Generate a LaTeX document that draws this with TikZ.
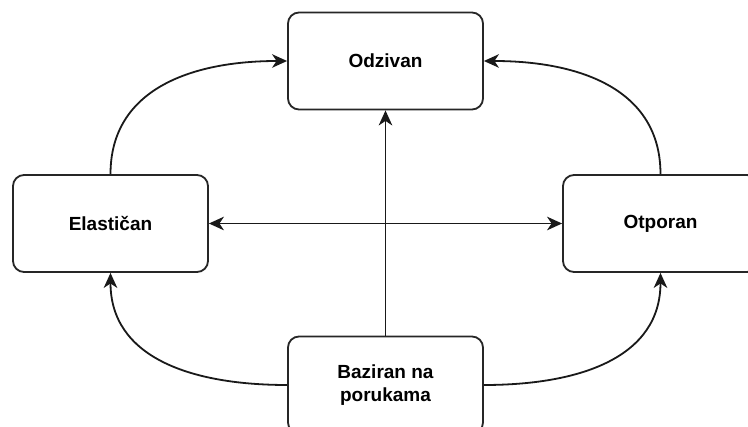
\documentclass[tikz,border=0pt]{standalone}
\usepackage{fontspec}
\setmainfont{Liberation Sans}
\usetikzlibrary{arrows.meta}
\begin{document}
\begin{tikzpicture}[x=1pt,y=-1pt,
  tip/.tip={Stealth[length=15pt,width=13.5pt,inset=4.5pt]},
  box/.style={draw=black!85,line width=1.8pt,rounded corners=11pt,fill=white,
    minimum width=195pt,minimum height=97pt,align=center,inner sep=0pt,
    font=\fontsize{19}{23}\selectfont\bfseries},
  link/.style={line width=1.8pt,draw=black!90,-tip},
  both/.style={line width=1.8pt,draw=black!90,tip-tip}]
\useasboundingbox[fill=white] (0,0) rectangle (748,427);
\begin{scope}
\clip (0,0) rectangle (748,427);
\node[box] (odz) at (385.5,61) {\raisebox{-1.5pt}{Odzivan}};
\node[box] (ela) at (110.5,223.5) {\raisebox{-1.5pt}{Elastičan}};
\node[box] (otp) at (660.5,223.5) {\raisebox{-1.5pt}{Otporan}};
\node[box] (baz) at (385.5,385) {Baziran na\\porukama};

% straight connectors
\draw[link] (baz.north) -- (odz.south);
\draw[both] (ela.east) -- (otp.west);

% curved connectors
\draw[link] (ela.north) .. controls (110.5,90) and (190,61) .. (odz.west);
\draw[link] (otp.north) .. controls (660.5,90) and (581,61) .. (odz.east);
\draw[link] (baz.west) .. controls (190,385) and (110.5,357) .. (ela.south);
\draw[link] (baz.east) .. controls (581,385) and (660.5,357) .. (otp.south);
\end{scope}
\end{tikzpicture}
\end{document}
